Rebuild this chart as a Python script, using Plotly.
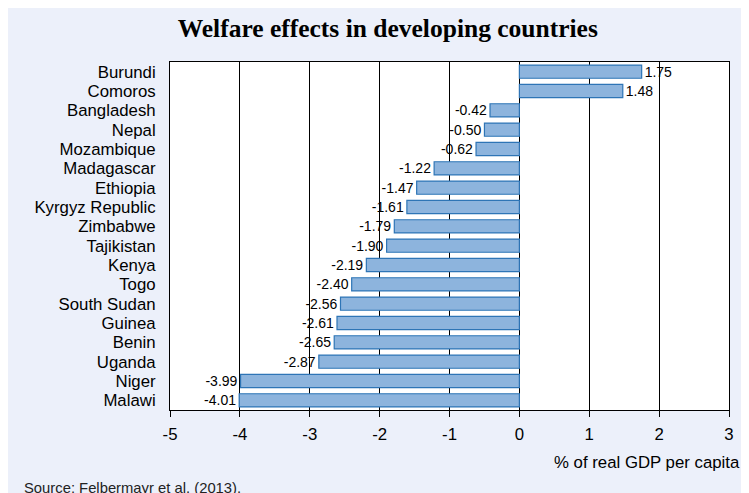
import plotly.graph_objects as go

countries = ["Burundi", "Comoros", "Bangladesh", "Nepal", "Mozambique", "Madagascar",
             "Ethiopia", "Kyrgyz Republic", "Zimbabwe", "Tajikistan", "Kenya", "Togo",
             "South Sudan", "Guinea", "Benin", "Uganda", "Niger", "Malawi"]
values = [1.75, 1.48, -0.42, -0.50, -0.62, -1.22, -1.47, -1.61, -1.79, -1.90,
          -2.19, -2.40, -2.56, -2.61, -2.65, -2.87, -3.99, -4.01]
x_ticks = [-5, -4, -3, -2, -1, 0, 1, 2, 3]

fig = go.Figure()
fig.add_trace(go.Bar(
    x=values, y=countries, orientation="h",
    marker=dict(color="#8DB4DD", line=dict(color="#2E75B6", width=1.2)),
    text=[f"{v:.2f}" for v in values], textposition="outside",
    textfont=dict(family="Liberation Sans", size=14, color="black"),
    constraintext="none",
    cliponaxis=False,
))

fig.update_layout(
    width=749, height=493,
    margin=dict(l=162, r=28, t=54, b=91),
    paper_bgcolor="#ECF0FA", plot_bgcolor="white",
    bargap=0.32, showlegend=False,
    title=dict(text="<b>Welfare effects in developing countries</b>",
               x=0.507, xanchor="center", xref="container",
               y=0.959, yanchor="middle", yref="container",
               font=dict(family="Liberation Serif", size=25.5, color="black")),
    font=dict(family="Liberation Sans", size=16.8, color="black"),
    xaxis=dict(range=[-5, 3], tickvals=x_ticks, ticktext=[str(t) for t in x_ticks],
               showgrid=True, gridcolor="black", gridwidth=1, zeroline=True,
               zerolinecolor="black", zerolinewidth=1,
               showline=True, linecolor="black", linewidth=1, mirror=True,
               ticks="outside", ticklen=6, tickcolor="black",
               ticklabelstandoff=3,
               tickfont=dict(size=16.8)),
    yaxis=dict(autorange="reversed", showgrid=False, showline=True,
               linecolor="black", linewidth=1, mirror=True, ticks="",
               tickmode="array", tickvals=countries, ticktext=countries,
               ticklabelstandoff=10,
               tickfont=dict(size=16.8)),
    annotations=[
        dict(text="% of real GDP per capita", xref="paper", yref="paper",
             x=1.023, y=-0.152, xanchor="right", yanchor="middle", showarrow=False,
             font=dict(family="Liberation Sans", size=16.8, color="black")),
        dict(text="Source: Felbermayr et al. (2013).", xref="paper", yref="paper",
             x=-0.265, y=-0.224, xanchor="left", yanchor="middle", showarrow=False,
             font=dict(family="Liberation Sans", size=14.8, color="#222222")),
    ],
)

fig.write_html("out.html")
